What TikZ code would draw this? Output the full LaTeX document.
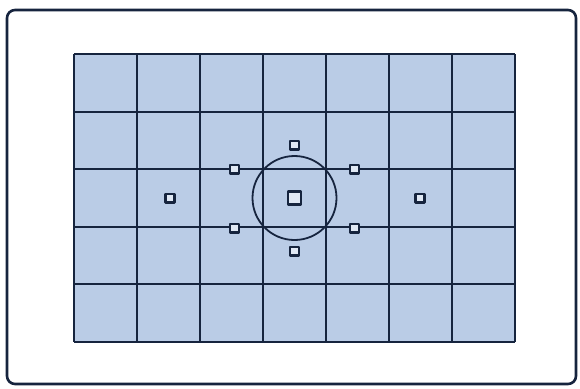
\documentclass[tikz,border=0pt]{standalone}
\usetikzlibrary{positioning}
\definecolor{navy}{RGB}{22,36,62}
\definecolor{cellblue}{RGB}{186,204,230}

\begin{document}
\begin{tikzpicture}[x=1pt,y=-1pt,line join=round,
  frame/.style={draw=navy,line width=2.6pt,rounded corners=8pt,fill=white},
  gl/.style={draw=navy,line width=1.8pt},
  af/.style={draw=navy,line width=2.5pt,fill=cellblue!45!white,minimum width=9pt,minimum height=8.5pt,inner sep=0pt},
  afc/.style={af,minimum width=13pt,minimum height=13pt},
  ring/.style={draw=navy,line width=1.8pt,circle,minimum size=84pt,inner sep=0pt}]
\useasboundingbox (0,0) rectangle (580,388);
% camera frame
\draw[frame] (7,10) rectangle (576,384);
% metering grid
\fill[cellblue] (74,54) rectangle (515,342);
\foreach \x in {74,137,200,263,326,389,452,515} \draw[gl] (\x,54) -- (\x,342);
\foreach \y in {54,112,169,227,284,342} \draw[gl] (74,\y) -- (515,\y);
% spot circle and AF points
\node[ring] (spot) at (294.5,198) {};
\node[afc] (c) at (294.5,198) {};
\node[af] (t) at (294.5,145) {};
\node[af] (b) at (294.5,251) {};
\node[af] (l) at (170,198) {};
\node[af] (r) at (420,198) {};
\node[af] (tl) at (234.5,169) {};
\node[af] (tr) at (354.5,169) {};
\node[af] (bl) at (234.5,228) {};
\node[af] (br) at (354.5,228) {};
\end{tikzpicture}
\end{document}
